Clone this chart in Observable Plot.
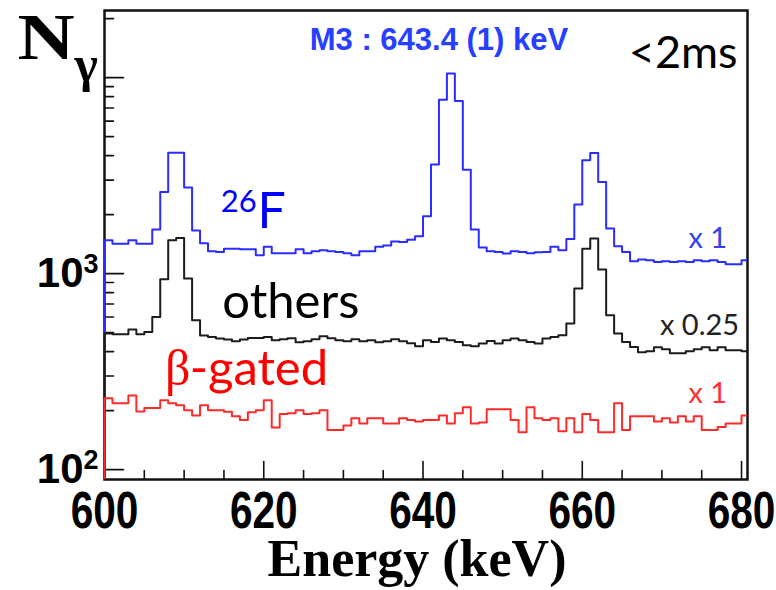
<!DOCTYPE html>
<html>
<head>
<meta charset="utf-8">
<script src="https://cdn.jsdelivr.net/npm/d3@7"></script>
<script src="https://cdn.jsdelivr.net/npm/@observablehq/plot@0.6"></script>
<style>
  html, body { margin: 0; padding: 0; background: #fff; }
  #chart svg { display: block; }
</style>
</head>
<body>
<div id="chart"></div>
<script>
// Gamma spectra, 1-keV bins starting at 600 keV (counts per bin, log scale)
const energyStart = 600;

// 26F-gated spectrum (x 1)
const f26Counts = [
  1480, 1420, 1420, 1480, 1420, 1420, 1680, 2610, 4140, 4140,
  2750, 1660, 1430, 1300, 1290, 1340, 1340, 1330, 1330, 1240,
  1370, 1270, 1270, 1270, 1330, 1270, 1300, 1315, 1300, 1290,
  1270, 1240, 1300, 1300, 1370, 1390, 1460, 1450, 1490, 1550,
  1960, 3600, 7720, 10480, 7600, 3390, 1680, 1360, 1300, 1290,
  1265, 1300, 1290, 1270, 1285, 1290, 1370, 1315, 1500, 2250,
  3790, 4120, 2930, 1700, 1380, 1290, 1155, 1180, 1170, 1145,
  1155, 1145, 1155, 1145, 1170, 1155, 1170, 1145, 1115, 1115,
  1170
];

// other nuclei (already scaled x 0.25)
const othersCounts = [
  494, 490, 490, 518, 490, 504, 601, 935, 1480, 1520,
  943, 578, 483, 475, 466, 461, 452, 461, 469, 469,
  475, 457, 462, 468, 446, 452, 462, 479, 468, 457,
  452, 462, 452, 457, 446, 452, 462, 452, 441, 426,
  457, 448, 466, 457, 448, 431, 426, 440, 453, 440,
  457, 466, 457, 448, 440, 466, 475, 484, 556, 839,
  1340, 1510, 1048, 613, 494, 448, 422, 397, 401, 421,
  411, 392, 392, 401, 411, 421, 406, 421, 406, 406,
  401
];

// beta-gated spectrum (x 1)
const betaCounts = [
  231, 218, 218, 239, 198, 206, 206, 226, 218, 213,
  201, 189, 213, 201, 201, 197, 187, 179, 196, 201,
  226, 164, 192, 194, 201, 192, 194, 201, 159, 159,
  168, 183, 172, 183, 183, 172, 172, 183, 179, 176,
  179, 179, 189, 172, 194, 208, 172, 174, 203, 203,
  203, 179, 155, 208, 183, 179, 183, 157, 183, 155,
  192, 179, 155, 155, 218, 159, 187, 187, 187, 176,
  183, 174, 187, 176, 187, 159, 159, 165, 172, 172,
  189
];

const xTickLabels = [600, 620, 640, 660, 680];
const yDecadeLabels = [100, 1000];

const xDomain = [600, 680.75];
const yDomain = [89, 22000];

const blue = "#2b2dff";
const black = "#1c1c1c";
const red = "#ff2a2a";

// one row per bin edge; the last bin is closed with a copy of its value
function bins(counts) {
  const rows = counts.map((v, i) => ({e: energyStart + i, v}));
  rows.push({e: energyStart + counts.length, v: counts[counts.length - 1]});
  return rows;
}

// plain straight tick drawn by the vector mark
const tickShape = {draw(context, l) { context.moveTo(0, 0); context.lineTo(0, -l); }};

const xTicks = d3.range(600, 681, 5);
const xMajor = xTicks.filter(d => d % 20 === 0);
const xMinor = xTicks.filter(d => d % 20 !== 0);
const yAll = [];
for (const p of [100, 1000, 10000]) for (let m = 1; m <= 9; ++m) {
  const v = m * p;
  if (v >= yDomain[0] && v <= yDomain[1]) yAll.push(v);
}
const yMajor = yAll.filter(v => v === 100 || v === 1000 || v === 10000);
const yMinor = yAll.filter(v => !yMajor.includes(v));

const sans = "Lato, 'Open Sans', sans-serif";
const rootFont = "'Liberation Sans', Arial, sans-serif";
const serif = "'Liberation Serif', 'Times New Roman', serif";
const tickStyle = {shape: tickShape, anchor: "start", stroke: "#111", strokeWidth: 1.6};

const chart = Plot.plot({
  width: 776,
  height: 590,
  marginLeft: 104,
  marginRight: 29,
  marginTop: 10,
  marginBottom: 111,
  x: {domain: xDomain, axis: null},
  y: {type: "log", domain: yDomain, axis: null},
  style: {background: "#fff", overflow: "visible"},
  marks: [
    Plot.frame({stroke: "#111", strokeWidth: 2.5}),
    // ticks inside the frame
    Plot.vector(xMinor, {x: d => d, frameAnchor: "bottom", length: 9, rotate: 0, ...tickStyle}),
    Plot.vector(xMajor, {x: d => d, frameAnchor: "bottom", length: 18, rotate: 0, ...tickStyle}),
    Plot.vector(yMinor, {y: d => d, frameAnchor: "left", length: 9, rotate: 90, ...tickStyle}),
    Plot.vector(yMajor, {y: d => d, frameAnchor: "left", length: 19, rotate: 90, ...tickStyle}),
    // histograms, each starting from the bottom of the frame
    Plot.ruleX([f26Counts[0]], {x: energyStart, y1: yDomain[0], y2: d => d, stroke: blue, strokeWidth: 2}),
    Plot.line(bins(f26Counts), {x: "e", y: "v", curve: "step-after", stroke: blue, strokeWidth: 2, clip: true}),
    Plot.ruleX([othersCounts[0]], {x: energyStart, y1: yDomain[0], y2: d => d, stroke: black, strokeWidth: 2}),
    Plot.line(bins(othersCounts), {x: "e", y: "v", curve: "step-after", stroke: black, strokeWidth: 2, clip: true}),
    Plot.ruleX([betaCounts[0]], {x: energyStart, y1: yDomain[0], y2: d => d, stroke: red, strokeWidth: 2}),
    Plot.line(bins(betaCounts), {x: "e", y: "v", curve: "step-after", stroke: red, strokeWidth: 2, clip: true}),
    // axis labels
    Plot.text(xTickLabels, {x: d => d, text: d => String(d), frameAnchor: "bottom", dy: 48, lineAnchor: "bottom",
      fontSize: 52, fontWeight: "bold", fontFamily: rootFont, fill: "#000", className: "xlab"}),
    Plot.text(yDecadeLabels, {y: d => d, text: () => "10", frameAnchor: "left", dx: -21, textAnchor: "end",
      fontSize: 42, fontWeight: "bold", fontFamily: rootFont, fill: "#000"}),
    Plot.text(yDecadeLabels, {y: d => d, text: d => String(Math.log10(d)), frameAnchor: "left", dx: -21, dy: -9,
      textAnchor: "start", fontSize: 27, fontWeight: "bold", fontFamily: rootFont, fill: "#000"}),
    Plot.text(["N"], {frameAnchor: "top-left", dx: -87, dy: 48, textAnchor: "start", lineAnchor: "bottom",
      fontSize: 66, fontWeight: "bold", fontFamily: serif, fill: "#000", className: "wideN"}),
    Plot.text(["γ"], {frameAnchor: "top-left", dx: -30, dy: 70, textAnchor: "start", lineAnchor: "bottom",
      fontSize: 50, fontWeight: "bold", fontFamily: serif, fill: "#000"}),
    Plot.text(["Energy (keV)"], {frameAnchor: "bottom", dx: -9, dy: 96, lineAnchor: "bottom",
      fontSize: 52, fontWeight: "bold", fontFamily: serif, fill: "#000"}),
    // annotations
    Plot.text(["M3 : 643.4 (1) keV"], {x: 642, y: 13770, lineAnchor: "bottom",
      fontSize: 31, fontWeight: "bold", fontFamily: rootFont, fill: "#2740ff"}),
    Plot.text(["<2ms"], {x: 679.5, y: 11150, textAnchor: "end", lineAnchor: "bottom",
      fontSize: 45, fontFamily: sans, fill: "#000"}),
    Plot.text(["26"], {x: 614.6, y: 2055, textAnchor: "start", lineAnchor: "bottom",
      fontSize: 31, fontFamily: sans, fill: "#0000ff"}),
    Plot.text(["F"], {x: 619.2, y: 1702, textAnchor: "start", lineAnchor: "bottom",
      fontSize: 50, fontFamily: sans, fill: "#0000ff"}),
    Plot.text(["others"], {x: 614.8, y: 592, textAnchor: "start", lineAnchor: "bottom",
      fontSize: 49, fontFamily: sans, fill: "#000"}),
    Plot.text(["β"], {x: 607.6, y: 269, textAnchor: "start", lineAnchor: "bottom",
      fontSize: 50, fontFamily: serif, fill: "#ff0000"}),
    Plot.text(["-gated"], {x: 610.7, y: 269, textAnchor: "start", lineAnchor: "bottom",
      fontSize: 49, fontFamily: sans, fill: "#ff0000"}),
    Plot.text(["x 1"], {x: 678.2, y: 1346, textAnchor: "end", lineAnchor: "bottom",
      fontSize: 29, fontFamily: sans, fill: "#3340ee"}),
    Plot.text(["x 0.25"], {x: 679.7, y: 484, textAnchor: "end", lineAnchor: "bottom",
      fontSize: 29, fontFamily: sans, fill: "#222"}),
    Plot.text(["x 1"], {x: 678.2, y: 218, textAnchor: "end", lineAnchor: "bottom",
      fontSize: 29, fontFamily: sans, fill: "#ff3030"})
  ]
});

// horizontal squeeze / stretch of a text mark around its own anchor
function stretch(svg, cls, sx) {
  svg.querySelectorAll(`.${cls} text`).forEach(t => {
    const tr = t.getAttribute("transform") || "";
    t.setAttribute("transform", `${tr} scale(${sx},1)`);
    if (t.hasAttribute("x")) t.setAttribute("x", parseFloat(t.getAttribute("x")) / sx);
  });
}
stretch(chart, "xlab", 0.78);
stretch(chart, "wideN", 1.2);

document.getElementById("chart").appendChild(chart);
</script>
</body>
</html>
